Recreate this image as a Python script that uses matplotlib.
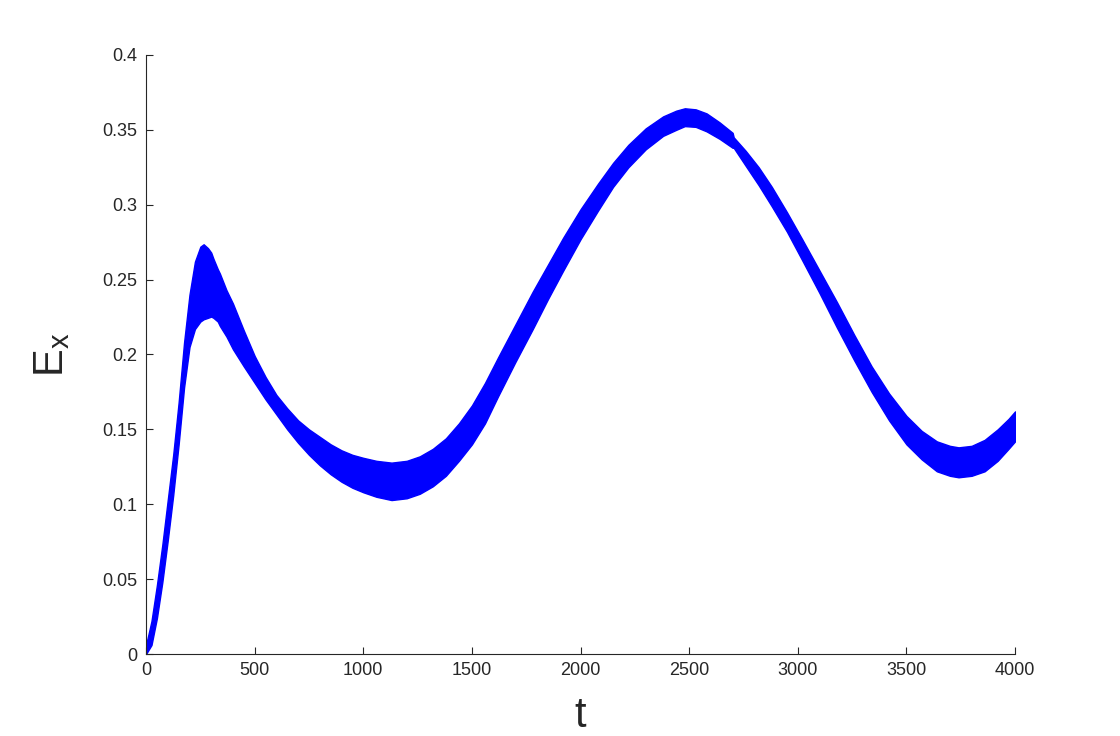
import numpy as np
import matplotlib.pyplot as plt

# === Envolventes de la banda E_x(t) ===
t = [0, 25, 50, 75, 100, 125, 150, 175, 200, 225, 250, 265, 285, 300, 310,
     330, 340, 370, 400, 450, 500, 550, 600, 650, 700, 750, 800, 850, 900,
     950, 1000, 1060, 1130, 1200, 1260, 1320, 1380, 1440, 1500, 1560, 1620,
     1700, 1780, 1850, 1920, 2000, 2080, 2150, 2220, 2300, 2380, 2440, 2480,
     2530, 2580, 2640, 2700, 2705, 2760, 2820, 2880, 2950, 3020, 3100, 3180,
     3260, 3340, 3420, 3500, 3570, 3640, 3700, 3740, 3800, 3860, 3920, 3970,
     4000]

ex_sup = [0.006, 0.022, 0.046, 0.073, 0.103, 0.133, 0.168, 0.208, 0.240, 0.262,
          0.272, 0.2736, 0.271, 0.268, 0.264, 0.257, 0.254, 0.243, 0.234, 0.216,
          0.199, 0.185, 0.173, 0.164, 0.156, 0.150, 0.145, 0.140, 0.136, 0.133,
          0.131, 0.129, 0.1278, 0.129, 0.132, 0.137, 0.144, 0.154, 0.166, 0.181,
          0.198, 0.220, 0.242, 0.260, 0.278, 0.297, 0.314, 0.328, 0.340, 0.351,
          0.359, 0.3628, 0.3644, 0.3637, 0.361, 0.355, 0.348, 0.345, 0.336,
          0.325, 0.312, 0.295, 0.277, 0.256, 0.235, 0.213, 0.192, 0.174, 0.159,
          0.149, 0.142, 0.139, 0.138, 0.139, 0.143, 0.150, 0.157, 0.162]

ex_inf = [0.0, 0.006, 0.024, 0.048, 0.076, 0.106, 0.140, 0.178, 0.205, 0.217,
          0.222, 0.2235, 0.2245, 0.2253, 0.2245, 0.222, 0.219, 0.212, 0.2035,
          0.192, 0.181, 0.170, 0.160, 0.150, 0.141, 0.133, 0.126, 0.120, 0.115,
          0.111, 0.108, 0.105, 0.1028, 0.104, 0.107, 0.112, 0.119, 0.129, 0.140,
          0.154, 0.172, 0.195, 0.217, 0.237, 0.256, 0.277, 0.296, 0.312, 0.325,
          0.337, 0.346, 0.350, 0.3525, 0.352, 0.349, 0.344, 0.338, 0.338, 0.326,
          0.313, 0.299, 0.282, 0.263, 0.241, 0.218, 0.196, 0.175, 0.156, 0.140,
          0.130, 0.122, 0.119, 0.118, 0.119, 0.122, 0.129, 0.137, 0.142]

xticks = [0, 500, 1000, 1500, 2000, 2500, 3000, 3500, 4000]
yticks = [0, 0.05, 0.1, 0.15, 0.2, 0.25, 0.3, 0.35, 0.4]
yticklabels = ['0', '0.05', '0.1', '0.15', '0.2', '0.25', '0.3', '0.35', '0.4']

plt.rcParams['font.family'] = ['Liberation Sans', 'DejaVu Sans']
plt.rcParams['mathtext.fontset'] = 'custom'
plt.rcParams['mathtext.rm'] = 'Liberation Sans'

gris = '#262626'

fig = plt.figure(figsize=(11.2, 7.36), dpi=100)
ax = fig.add_axes([0.1304, 0.1114, 0.7759, 0.8139])

# Banda de oscilación rápida (envolvente superior e inferior)
ax.fill_between(t, ex_inf, ex_sup, facecolor='#0000ff', edgecolor='#0000ff', lw=1.0)

ax.set_xlim(0, 4000)
ax.set_ylim(0, 0.4)
ax.set_xticks(xticks)
ax.set_yticks(yticks)
ax.set_yticklabels(yticklabels)

for lado in ['top', 'right']:
    ax.spines[lado].set_visible(False)
for lado in ['left', 'bottom']:
    ax.spines[lado].set_color(gris)
    ax.spines[lado].set_linewidth(0.8)

ax.tick_params(direction='in', length=5, width=0.8, colors=gris,
               labelsize=13, pad=6)

ax.set_xlabel('t', fontsize=30, color=gris, labelpad=12)
ax.set_ylabel(r'$\mathrm{E}_\mathrm{x}$', fontsize=30, color=gris, labelpad=22)

fig.savefig('out.png', dpi=100, facecolor='white')
